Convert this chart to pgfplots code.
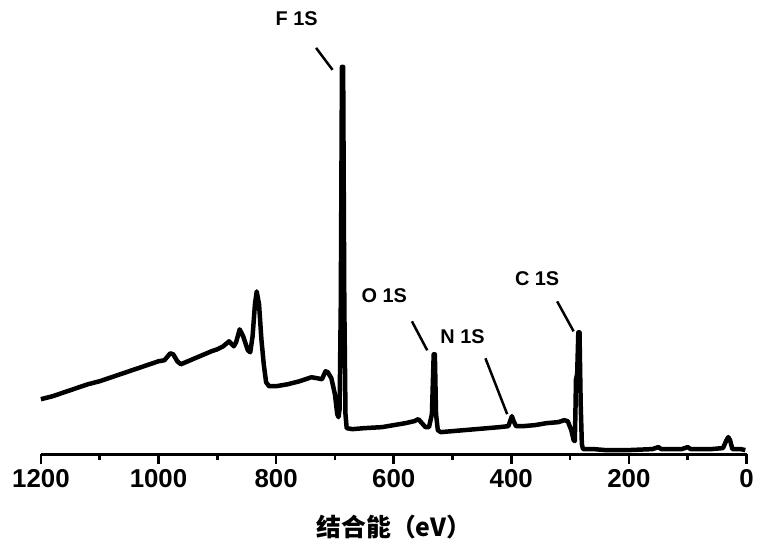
\documentclass[border=0pt]{standalone}
\usepackage{fontspec}
\setmainfont{Liberation Sans}
\newfontfamily\cjk{Noto Sans CJK SC}
\usepackage{pgfplots}
\pgfplotsset{compat=1.18}

% survey spectrum (binding energy in eV, intensity in arbitrary units)
\pgfplotstableread{
x y
1200 55
1180 58
1160 62
1140 66
1120 70
1100 73
1080 77
1060 81
1040 85
1020 89
1000 93
990 94
980 101
975 100
968 93
962 90
950 93
930 98
910 103
900 105
890 108
880 113
872 108
868 112
862 125
856 118
848 104
844 102
840 118
836 150
833 163
829 150
825 115
821 90
817 72
812 68
800 68
780 70
760 73
740 77
730 76
722 75
716 83
712 82
706 76
700 60
696 40
694 37
692 45
690 150
688 388
686 388
684 150
682 40
680 26
670 25
650 26
620 27
600 29
580 31
565 33
558 35
552 31
546 27
540 27
535 40
532 100
530 100
528 40
525 24
520 22
500 23
480 24
460 25
440 26
420 27
405 28
402 33
399 38
396 33
392 28
380 28
360 29
340 31
320 32
310 34
304 33
298 24
294 14
292 13
291 40
290 75
288 80
286 122
284 122
282 50
280 10
278 5
260 5
240 4
200 4
160 5
150 7
145 5
110 5
100 7
95 5
60 5
40 6
34 14
31 17
28 14
24 5
10 5
2 4
}\survey

\begin{document}
\begin{tikzpicture}
    \begin{axis}[
            scale only axis,
            width=707bp,
            height=455bp,
            at={(0,0)},
            anchor=south west,
            x dir=reverse,
            xmin=0, xmax=1200,
            ymin=0, ymax=455,
            axis x line=bottom,
            hide y axis,
            axis line style={-, line width=3bp},
            xtick={0,200,...,1200},
            minor xtick={100,300,...,1100},
            tick align=outside,
            major tick length=10bp,
            minor tick length=6bp,
            every tick/.style={black, line width=2.5bp},
            xticklabel style={font=\fontsize{26}{28}\selectfont\bfseries, yshift=-2bp},
            /pgf/number format/assume math mode=true,
            /pgf/number format/1000 sep={},
            xlabel={\cjk\bfseries 结合能（eV）},
            xlabel style={font=\fontsize{25}{27}\selectfont, yshift=-20bp},
            clip=false,
        ]
        \addplot[black, line width=4.5bp, line join=round] table[x=x, y=y] {\survey};

        \begin{scope}[every node/.style={font=\fontsize{20}{22}\selectfont\bfseries}]
            \node at (axis cs:765,436) {F 1S};
            \node at (axis cs:616,159) {O 1S};
            \node at (axis cs:483,118) {N 1S};
            \node at (axis cs:356,176) {C 1S};
        \end{scope}
        \draw[line width=2.5bp] (axis cs:732,407) -- (axis cs:704,385);
        \draw[line width=2.5bp] (axis cs:569,133) -- (axis cs:543,104);
        \draw[line width=2.5bp] (axis cs:444,96) -- (axis cs:407,40);
        \draw[line width=2.5bp] (axis cs:322,153) -- (axis cs:294,123);
    \end{axis}
    \path (-41bp,-96bp) rectangle (716bp,455bp);
\end{tikzpicture}
\end{document}
